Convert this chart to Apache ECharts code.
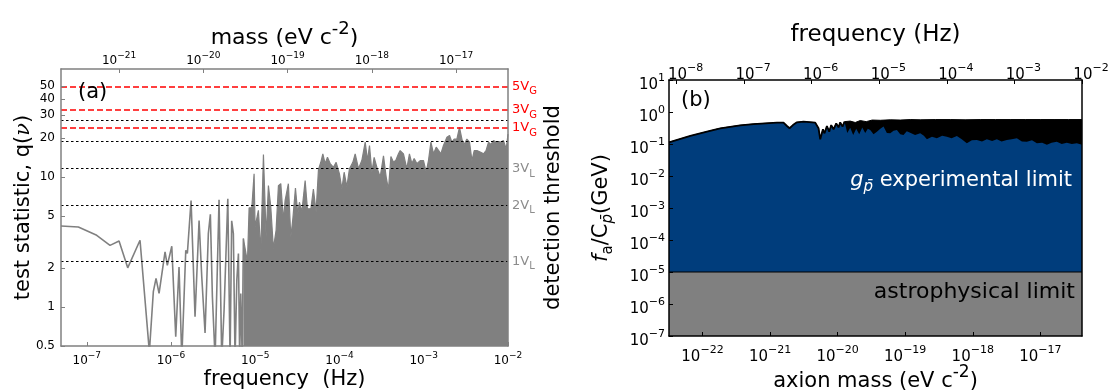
<!DOCTYPE html>
<html>
<head>
<meta charset="utf-8">
<title>Axion search: test statistic and exclusion limits</title>
<script src="https://cdn.jsdelivr.net/npm/echarts@6/dist/echarts.min.js"></script>
<style>
  html, body { margin: 0; padding: 0; background: #ffffff; }
  #chart { width: 1113px; height: 392px; }
</style>
</head>
<body>
<div id="chart"></div>
<script>
// ---------------- data ----------------
// h/e in eV·s: mass-energy of a boson oscillating at a given frequency
const H_EV_S = 4.135667696e-15;

// Panel (a): axis spans (frequency as log10 Hz)
const logFreqSpanA = [-7.306, -2];
const qSpanA = [0.5, 68];

// Panel (a): test statistic q(nu), sparse low-frequency part (log10 Hz, q)
const logFreqA = [-7.306, -7.100, -6.882, -6.724, -6.617, -6.514, -6.368, -6.257, -6.210, -6.178,
  -6.142, -6.071, -6.044, -5.991, -5.944, -5.905, -5.872, -5.825, -5.806, -5.762,
  -5.715, -5.667, -5.635, -5.596, -5.557, -5.533, -5.509, -5.477, -5.430, -5.398,
  -5.370, -5.326, -5.299, -5.280, -5.260, -5.240, -5.219, -5.200, -5.185, -5.172, -5.155, -5.141];
const qA = [4.2, 4.13, 3.56, 2.98, 3.22, 2.0, 3.26, 0.45, 1.31, 1.66,
  1.27, 2.65, 2.09, 2.93, 0.59, 2.03, 0.4, 2.73, 2.58, 6.6,
  0.84, 4.63, 1.7, 0.63, 3.67, 5.16, 1.2, 0.4, 6.7, 0.4,
  0.95, 6.8, 0.4, 4.6, 3.67, 0.4, 1.6, 2.58, 0.4, 1.27, 0.4, 3.36];

// Panel (a): dense high-frequency part, upper envelope of the spectrum
const logFreqDenseA = [-5.141, -5.121, -5.093, -5.073, -5.041, -5.014, -5.002, -4.963, -4.934, -4.903,
  -4.871, -4.844, -4.816, -4.785, -4.753, -4.725, -4.697, -4.666, -4.646, -4.607,
  -4.578, -4.554, -4.523, -4.495, -4.476, -4.447, -4.408, -4.381, -4.340, -4.310,
  -4.278, -4.250, -4.222, -4.198, -4.171, -4.143, -4.111, -4.072, -4.040, -4.001,
  -3.972, -3.945, -3.913, -3.882, -3.842, -3.814, -3.775, -3.735, -3.695, -3.668,
  -3.644, -3.616, -3.589, -3.557, -3.517, -3.478, -3.446, -3.419, -3.390, -3.359,
  -3.331, -3.300, -3.280, -3.241, -3.201, -3.170, -3.141, -3.114, -3.082, -3.042,
  -3.003, -2.971, -2.944, -2.915, -2.884, -2.852, -2.825, -2.797, -2.766, -2.725,
  -2.694, -2.666, -2.639, -2.607, -2.576, -2.547, -2.520, -2.488, -2.457, -2.428,
  -2.401, -2.369, -2.330, -2.290, -2.259, -2.231, -2.203, -2.172, -2.140, -2.112,
  -2.084, -2.054, -2.021, -2.000];
const qDenseA = [3.36, 3.42, 2.22, 5.8, 5.8, 10.6, 4.13, 5.54, 2.65, 14.9,
  3.45, 8.6, 5.9, 2.81, 3.89, 8.6, 8.9, 4.63, 6.6, 8.9,
  3.45, 4.78, 8.25, 5.2, 6.4, 5.4, 9.4, 5.7, 5.7, 8.1,
  5.4, 11.4, 13.0, 15.1, 12.7, 14.2, 12.7, 11.9, 13.0, 10.6,
  8.1, 10.9, 8.4, 11.6, 13.0, 15.1, 11.6, 13.4, 18.6, 13.4,
  17.5, 10.9, 14.2, 11.9, 10.0, 14.6, 10.0, 8.0, 14.4, 13.0,
  13.5, 15.1, 16.0, 15.1, 11.6, 15.1, 12.7, 13.9, 12.7, 13.4,
  13.4, 10.9, 13.4, 18.6, 15.1, 17.0, 16.1, 15.1, 17.5, 20.3,
  20.9, 18.6, 19.6, 19.6, 24.2, 19.6, 17.8, 19.6, 18.6, 13.4,
  16.0, 16.0, 15.6, 15.1, 16.1, 18.6, 17.8, 19.1, 18.6, 18.8,
  18.6, 19.1, 16.5, 21.4];

// Panel (a): detection thresholds (q value, label, G = global / L = local)
const thresholdQ = [50, 33.2, 27.6, 24, 18.8, 11.6, 6.06, 2.25];
const thresholdName = ['5V', '3V', '', '1V', '', '3V', '2V', '1V'];
const thresholdKind = ['G', 'G', 'L', 'G', 'L', 'L', 'L', 'L'];

// Panel (a): tick values
const qTicksA = [0.5, 1, 2, 5, 10, 20, 30, 40, 50];
const freqTickExpA = [-7, -6, -5, -4, -3, -2];
const massTickExpA = [-21, -20, -19, -18, -17];

// Panel (b): axis spans
const logFreqSpanB = [-8.112, -2];
const limitSpanB = [1e-7, 10];

// Panel (b): experimental limit on f_a/C_p (GeV), smooth low-frequency part
const logFreqCurveB = [-8.112, -7.797, -7.550, -7.353, -7.058, -6.861, -6.514, -6.417, -6.366, -6.328,
  -6.278, -6.219, -6.121, -5.948, -5.899, -5.874, -5.834, -5.810, -5.775, -5.741,
  -5.711, -5.677, -5.637, -5.603, -5.578, -5.544, -5.514];
const limitCurveB = [0.113, 0.178, 0.243, 0.309, 0.384, 0.42, 0.465, 0.465, 0.365, 0.31,
  0.39, 0.475, 0.50, 0.465, 0.31, 0.14, 0.288, 0.216, 0.365, 0.243,
  0.39, 0.288, 0.44, 0.33, 0.475, 0.35, 0.5];

// Panel (b): noisy high-frequency part, upper edge of the oscillating limit
const logFreqTopB = [-5.514, -5.430, -5.356, -5.282, -5.193, -5.105, -4.986, -4.838, -4.690, -4.542,
  -4.394, -4.170, -3.950, -3.730, -3.506, -3.280, -3.063, -2.840, -2.619, -2.400, -2.200, -2.000];
const bandTopB = [0.5, 0.52, 0.47, 0.54, 0.50, 0.56, 0.55, 0.57, 0.56, 0.58,
  0.57, 0.58, 0.58, 0.57, 0.58, 0.58, 0.58, 0.58, 0.58, 0.58, 0.58, 0.58];

// Panel (b): noisy high-frequency part, lower edge of the oscillating limit
const logFreqLowB = [-5.474, -5.430, -5.386, -5.341, -5.297, -5.252, -5.208, -5.170, -5.134, -5.085,
  -5.035, -4.985, -4.937, -4.888, -4.838, -4.789, -4.739, -4.690, -4.642, -4.593,
  -4.543, -4.470, -4.394, -4.340, -4.295, -4.220, -4.148, -4.070, -4.000, -3.930,
  -3.852, -3.780, -3.704, -3.630, -3.556, -3.480, -3.408, -3.330, -3.260, -3.190,
  -3.112, -3.040, -2.964, -2.890, -2.816, -2.740, -2.668, -2.590, -2.520, -2.450,
  -2.372, -2.300, -2.224, -2.150, -2.077, -2.000];
const bandLowB = [0.22, 0.32, 0.19, 0.30, 0.20, 0.33, 0.22, 0.30, 0.274, 0.20,
  0.243, 0.30, 0.35, 0.22, 0.216, 0.26, 0.274, 0.20, 0.19, 0.25,
  0.226, 0.19, 0.216, 0.18, 0.14, 0.17, 0.15, 0.18, 0.17, 0.15,
  0.178, 0.14, 0.105, 0.13, 0.133, 0.12, 0.14, 0.125, 0.14, 0.12,
  0.133, 0.14, 0.15, 0.12, 0.118, 0.13, 0.105, 0.11, 0.094, 0.11,
  0.118, 0.10, 0.11, 0.10, 0.105, 0.094];

// Panel (b): astrophysical bound (GeV)
const astroLimitB = 1e-5;

// Panel (b): tick values
const limitTickExpB = [-7, -6, -5, -4, -3, -2, -1, 0, 1];
const freqTickExpB = [-8, -7, -6, -5, -4, -3, -2];
const massTickExpB = [-22, -21, -20, -19, -18, -17];

// ---------------- helpers ----------------
const FONT = 'DejaVu Sans';
const GRAY = '#808080';
const NAVY = '#003d7c';

const pairs = (lf, v) => lf.map((x, i) => [Math.pow(10, x), v[i]]);
const pows = exps => exps.map(e => Math.pow(10, e));
const powLabel = v => {
  const e = Math.round(Math.log10(v));
  return '{b|10}{s|' + (e < 0 ? '\u2212' + (-e) : String(e)) + '}';
};
const powRich = (size, sup, lift) => ({
  b: { fontSize: size, lineHeight: size, padding: [lift, 0, 0, 0], verticalAlign: 'top', fontFamily: FONT, color: '#000' },
  s: { fontSize: sup, lineHeight: sup, verticalAlign: 'top', fontFamily: FONT, color: '#000' }
});

function logAxis(o) {
  const c = o.color;
  const ax = {
    gridIndex: o.grid, type: 'log', position: o.position, min: o.min, max: o.max, z: 6,
    axisLine: { show: true, onZero: false, lineStyle: { color: c, width: 1.5 } },
    axisTick: { show: !!o.ticks, inside: true, length: 4, lineStyle: { color: c, width: 1 } },
    axisLabel: { show: !!o.ticks },
    splitLine: { show: false }, minorTick: { show: false }
  };
  if (o.ticks) {
    ax.axisTick.customValues = o.ticks;
    ax.axisLabel = {
      show: true, customValues: o.ticks, margin: o.margin, color: '#000', fontFamily: FONT,
      fontSize: o.fontSize, formatter: o.formatter, rich: o.rich
    };
    if (o.labelPad) ax.axisLabel.padding = o.labelPad;
  }
  if (o.name) {
    ax.name = o.name;
    ax.nameLocation = 'middle';
    ax.nameGap = o.nameGap;
    ax.nameMoveOverlap = false;
    if (o.nameRotate !== undefined) ax.nameRotate = o.nameRotate;
    ax.nameTextStyle = Object.assign({ fontFamily: FONT, fontSize: o.nameSize, color: '#000' },
      o.nameRich ? { rich: o.nameRich } : {});
  }
  return ax;
}

const supName = size => ({
  t: { fontSize: size, lineHeight: size, padding: [7, 0, 0, 0], verticalAlign: 'top', fontFamily: FONT, color: '#000' },
  s: { fontSize: Math.round(size * 0.8), lineHeight: Math.round(size * 0.8), verticalAlign: 'top', fontFamily: FONT, color: '#000' }
});

// ---------------- chart ----------------
const chart = echarts.init(document.getElementById('chart'), null, { renderer: 'canvas' });

const thresholdLines = thresholdQ.map((q, i) => {
  const global = thresholdKind[i] === 'G';
  return {
    yAxis: q,
    lineStyle: global
      ? { color: '#ff0000', type: [6, 3], width: 1.5 }
      : { color: '#000000', type: [2.5, 2.5], width: 1.2 },
    label: {
      show: thresholdName[i] !== '',
      position: 'end',
      distance: 4,
      formatter: global ? '{r|' + thresholdName[i] + '}{rs|G}' : '{g|' + thresholdName[i] + '}{gs|L}',
      rich: {
        r: { color: '#ff0000', fontSize: 13, lineHeight: 13, verticalAlign: 'top', fontFamily: FONT },
        rs: { color: '#ff0000', fontSize: 10, lineHeight: 10, padding: [7, 0, 0, 0], verticalAlign: 'top', fontFamily: FONT },
        g: { color: '#8c8c8c', fontSize: 13, lineHeight: 13, verticalAlign: 'top', fontFamily: FONT },
        gs: { color: '#8c8c8c', fontSize: 10, lineHeight: 10, padding: [7, 0, 0, 0], verticalAlign: 'top', fontFamily: FONT }
      }
    }
  };
});

const curveB = pairs(logFreqCurveB, limitCurveB);
const upperB = curveB.concat(pairs(logFreqTopB, bandTopB).slice(1));
const lowerB = curveB.concat(pairs(logFreqLowB, bandLowB));

const option = {
  animation: false,
  textStyle: { fontFamily: FONT },
  grid: [
    { left: 61, top: 69, width: 447, height: 277, containLabel: false, outerBoundsMode: 'none' },
    { left: 669, top: 80, width: 413, height: 256, containLabel: false, outerBoundsMode: 'none' }
  ],
  xAxis: [
    logAxis({ grid: 0, position: 'bottom', color: GRAY,
      min: Math.pow(10, logFreqSpanA[0]), max: Math.pow(10, logFreqSpanA[1]),
      ticks: pows(freqTickExpA), margin: 5, formatter: powLabel, rich: powRich(12, 9, 4),
      name: 'frequency  (Hz)', nameGap: 23, nameSize: 21 }),
    logAxis({ grid: 0, position: 'top', color: GRAY,
      min: Math.pow(10, logFreqSpanA[0]) * H_EV_S, max: Math.pow(10, logFreqSpanA[1]) * H_EV_S,
      ticks: pows(massTickExpA), margin: 6, formatter: powLabel, rich: powRich(12, 9, 4),
      name: '{t|mass (eV c}{s|-2}{t|)}', nameGap: 27, nameSize: 22, nameRich: supName(22) }),
    logAxis({ grid: 1, position: 'bottom', color: '#000',
      min: Math.pow(10, logFreqSpanB[0]) * H_EV_S, max: Math.pow(10, logFreqSpanB[1]) * H_EV_S,
      ticks: pows(massTickExpB), margin: 9, formatter: powLabel, rich: powRich(15, 11, 5),
      name: '{t|axion mass (eV c}{s|-2}{t|)}', nameGap: 28, nameSize: 21, nameRich: supName(21) }),
    logAxis({ grid: 1, position: 'top', color: '#000',
      min: Math.pow(10, logFreqSpanB[0]), max: Math.pow(10, logFreqSpanB[1]),
      ticks: pows(freqTickExpB), margin: 2, formatter: powLabel, rich: powRich(15, 11, 5),
      labelPad: [0, 0, 0, 18],
      name: 'frequency (Hz)', nameGap: 33, nameSize: 23 })
  ],
  yAxis: [
    logAxis({ grid: 0, position: 'left', color: GRAY, min: qSpanA[0], max: qSpanA[1],
      ticks: qTicksA, margin: 6, fontSize: 12, formatter: v => String(v),
      name: '{t|test statistic, q(}{i|\u03bd}{t|)}', nameGap: 27, nameSize: 21, nameRotate: 90,
      nameRich: {
        t: { fontSize: 21, fontFamily: FONT, color: '#000' },
        i: { fontSize: 21, fontFamily: 'DejaVu Serif', fontStyle: 'italic', color: '#000' }
      } }),
    logAxis({ grid: 0, position: 'right', color: GRAY, min: qSpanA[0], max: qSpanA[1],
      name: 'detection threshold', nameGap: 35, nameSize: 21, nameRotate: 90 }),
    logAxis({ grid: 1, position: 'left', color: '#000', min: limitSpanB[0], max: limitSpanB[1],
      ticks: pows(limitTickExpB), margin: 4, formatter: powLabel, rich: powRich(15, 11, 5),
      name: '{i|f}{sb|a}{t|/C}{sp|p\u0304}{t|(GeV)}', nameGap: 57, nameSize: 21, nameRotate: 90,
      nameRich: {
        i: { fontSize: 21, lineHeight: 21, fontStyle: 'italic', verticalAlign: 'top', fontFamily: FONT, color: '#000' },
        t: { fontSize: 21, lineHeight: 21, verticalAlign: 'top', fontFamily: FONT, color: '#000' },
        sb: { fontSize: 15, lineHeight: 15, padding: [10, 0, 0, 0], verticalAlign: 'top', fontFamily: FONT, color: '#000' },
        sp: { fontSize: 15, lineHeight: 15, padding: [10, 0, 0, 0], fontStyle: 'italic', verticalAlign: 'top', fontFamily: FONT, color: '#000' }
      } }),
    logAxis({ grid: 1, position: 'right', color: '#000', min: limitSpanB[0], max: limitSpanB[1] })
  ],
  series: [
    // (a) dense part of the spectrum, drawn as a filled envelope
    { type: 'line', xAxisIndex: 0, yAxisIndex: 0, data: pairs(logFreqDenseA, qDenseA),
      symbol: 'none', z: 2, lineStyle: { color: GRAY, width: 1.2 },
      areaStyle: { color: GRAY, opacity: 1, origin: 'start' } },
    // (a) sparse part of the spectrum + threshold lines
    { type: 'line', xAxisIndex: 0, yAxisIndex: 0, data: pairs(logFreqA, qA),
      symbol: 'none', z: 3, lineStyle: { color: GRAY, width: 1.6 },
      markLine: { symbol: ['none', 'none'], silent: true, animation: false, data: thresholdLines } },
    // (b) upper edge of the oscillating limit
    { type: 'line', xAxisIndex: 3, yAxisIndex: 2, data: upperB, symbol: 'none', z: 2,
      lineStyle: { color: '#000', width: 1 }, areaStyle: { color: '#000', opacity: 1, origin: 'start' } },
    // (b) excluded region below the experimental limit
    { type: 'line', xAxisIndex: 3, yAxisIndex: 2, data: lowerB, symbol: 'none', z: 3,
      lineStyle: { width: 0 }, areaStyle: { color: NAVY, opacity: 1, origin: 'start' } },
    // (b) outline of the smooth part of the limit
    { type: 'line', xAxisIndex: 3, yAxisIndex: 2, data: curveB, symbol: 'none', z: 4,
      lineStyle: { color: '#000', width: 1.8 } },
    // (b) astrophysical bound
    { type: 'line', xAxisIndex: 3, yAxisIndex: 2, z: 5, symbol: 'none',
      data: [[Math.pow(10, logFreqSpanB[0]), astroLimitB], [Math.pow(10, logFreqSpanB[1]), astroLimitB]],
      lineStyle: { color: '#000', width: 1.2 }, areaStyle: { color: GRAY, opacity: 1, origin: 'start' } }
  ],
  graphic: [
    { type: 'text', left: 78, top: 82, z: 10,
      style: { text: '(a)', fontSize: 21, fontFamily: FONT, fill: '#000' } },
    { type: 'text', left: 681, top: 90, z: 10,
      style: { text: '(b)', fontSize: 21, fontFamily: FONT, fill: '#000' } },
    { type: 'text', right: 41, top: 170, z: 10,
      style: {
        text: '{g|g}{p|p\u0304}{t| experimental limit}',
        rich: {
          g: { fontSize: 21, lineHeight: 21, fontStyle: 'italic', verticalAlign: 'top', fontFamily: FONT, fill: '#fff' },
          p: { fontSize: 15, lineHeight: 15, fontStyle: 'italic', padding: [10, 0, 0, 0], verticalAlign: 'top', fontFamily: FONT, fill: '#fff' },
          t: { fontSize: 21, lineHeight: 21, verticalAlign: 'top', fontFamily: FONT, fill: '#fff' }
        }
      } },
    { type: 'text', right: 38, top: 281, z: 10,
      style: { text: 'astrophysical limit', fontSize: 22, fontFamily: FONT, fill: '#000' } }
  ]
};

chart.setOption(option);
</script>
</body>
</html>
